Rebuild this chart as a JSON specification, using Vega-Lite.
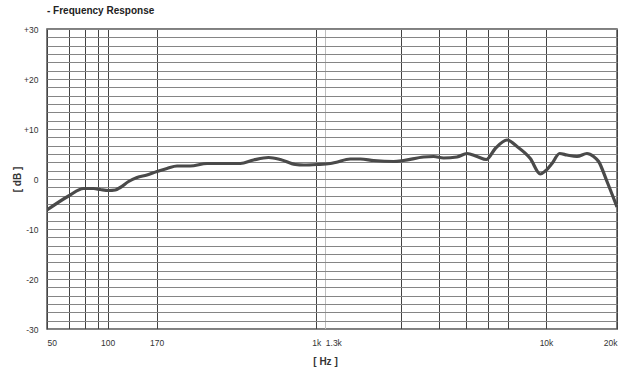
{
  "$schema": "https://vega.github.io/schema/vega-lite/v6.json",
  "autosize": {"type": "none"},
  "padding": {"left": 47, "top": 29, "right": 24, "bottom": 47},
  "width": 570,
  "height": 300,
  "background": "white",
  "title": {"text": "- Frequency Response", "anchor": "start", "frame": "group", "font": "Liberation Sans", "fontSize": 10, "fontWeight": "bold", "color": "#222", "offset": 9},
  "data": {"values": [
    {"f": 50, "db": -6.2}, {"f": 64.0, "db": -3.4}, {"f": 76.0, "db": -1.9}, {"f": 85.2, "db": -1.9},
    {"f": 92.0, "db": -2.1}, {"f": 101, "db": -2.3}, {"f": 108.7, "db": -2.2}, {"f": 114.7, "db": -1.7},
    {"f": 125.5, "db": -0.5}, {"f": 137.5, "db": 0.3}, {"f": 153.2, "db": 0.8}, {"f": 170.8, "db": 1.5},
    {"f": 190.8, "db": 2.1}, {"f": 213.2, "db": 2.6}, {"f": 247, "db": 2.6}, {"f": 297.5, "db": 3.1},
    {"f": 430.3, "db": 3.1}, {"f": 498.8, "db": 3.8}, {"f": 589, "db": 4.3}, {"f": 671, "db": 3.9},
    {"f": 792, "db": 2.9}, {"f": 868.7, "db": 2.8}, {"f": 1020.6, "db": 2.9}, {"f": 1361, "db": 3.1},
    {"f": 1426, "db": 3.3}, {"f": 1638, "db": 4.0}, {"f": 1797, "db": 4.0}, {"f": 2032, "db": 3.7},
    {"f": 2444, "db": 3.5}, {"f": 2681, "db": 3.7}, {"f": 3225, "db": 4.4}, {"f": 3538, "db": 4.5},
    {"f": 3880, "db": 4.2}, {"f": 4393, "db": 4.4}, {"f": 4818, "db": 5.1}, {"f": 5283, "db": 4.5},
    {"f": 5759, "db": 3.9}, {"f": 6257, "db": 6.1}, {"f": 6972, "db": 7.8}, {"f": 7649, "db": 6.5},
    {"f": 8649, "db": 4.1}, {"f": 9486, "db": 1.0}, {"f": 9933, "db": 1.6}, {"f": 10603, "db": 3.1},
    {"f": 11419, "db": 5.1}, {"f": 12275, "db": 4.8}, {"f": 13535, "db": 4.5}, {"f": 14922, "db": 5.1},
    {"f": 15915, "db": 4.5}, {"f": 16712, "db": 3.5}, {"f": 18139, "db": -0.5}, {"f": 20000, "db": -5.6}
  ]},
  "mark": {"type": "line", "interpolate": "monotone", "color": "#4a4a4a", "strokeWidth": 3.2, "clip": true},
  "encoding": {
    "x": {
      "field": "f", "type": "quantitative",
      "scale": {"type": "log", "domain": [50, 100, 170, 1000, 1300, 10000, 20000], "range": [0, 60.6, 109.6, 269.3, 278.3, 499, 570]},
      "axis": {
        "values": [50, 64.3, 77.5, 89.6, 100, 170, 1000, 1300, 2617, 3719, 4757, 5827, 7011, 10000, 20000],
        "labelExpr": "datum.value == 50 ? '50' : datum.value == 100 ? '100' : datum.value == 170 ? '170' : datum.value == 1000 ? '1k' : datum.value == 1300 ? '1.3k' : datum.value == 10000 ? '10k' : datum.value == 20000 ? '20k' : ''",
        "labelAlign": {"condition": [{"test": "datum.value == 50", "value": "left"}, {"test": "datum.value == 1300", "value": "left"}, {"test": "datum.value == 20000", "value": "right"}], "value": "center"},
        "labelFont": "Liberation Sans", "labelFontSize": 8.5, "labelColor": "#333", "labelPadding": 9,
        "labelOverlap": false, "labelBound": false, "labelFlush": false,
        "ticks": false, "domain": false,
        "grid": true,
        "gridColor": {"condition": {"test": "datum.value == 1300", "value": "#bdbdbd"}, "value": "#444"},
        "gridWidth": 1,
        "title": "[  Hz  ]", "titleFont": "Liberation Sans", "titleFontSize": 10, "titleFontWeight": "bold", "titleColor": "#333",
        "titleX": 278, "titleY": 27, "titleAlign": "center"
      }
    },
    "y": {
      "field": "db", "type": "quantitative",
      "scale": {"domain": [-30, 30], "nice": false, "zero": false},
      "axis": {
        "values": [-30, -28.3333, -26.6667, -25, -23.3333, -21.6667, -20, -18.3333, -16.6667, -15, -13.3333, -11.6667, -10, -8.3333, -6.6667, -5, -3.3333, -1.6667, 0, 1.6667, 3.3333, 5, 6.6667, 8.3333, 10, 11.6667, 13.3333, 15, 16.6667, 18.3333, 20, 21.6667, 23.3333, 25, 26.6667, 28.3333, 30],
        "labelExpr": "abs(datum.value - round(datum.value / 10) * 10) < 0.01 ? (round(datum.value) > 0 ? '+' + round(datum.value) : '' + round(datum.value)) : ''",
        "labelFont": "Liberation Sans", "labelFontSize": 8.5, "labelColor": "#333", "labelPadding": 9,
        "labelOverlap": false, "labelBound": false, "labelFlush": false,
        "ticks": false, "domain": false,
        "grid": true, "gridColor": "#858585", "gridWidth": 1,
        "title": "[  dB  ]", "titleFont": "Liberation Sans", "titleFontSize": 10, "titleFontWeight": "bold", "titleColor": "#333",
        "titleX": -25, "titleY": 150, "titleAlign": "center"
      }
    }
  },
  "config": {"view": {"stroke": "#555", "strokeWidth": 1.5}}
}
